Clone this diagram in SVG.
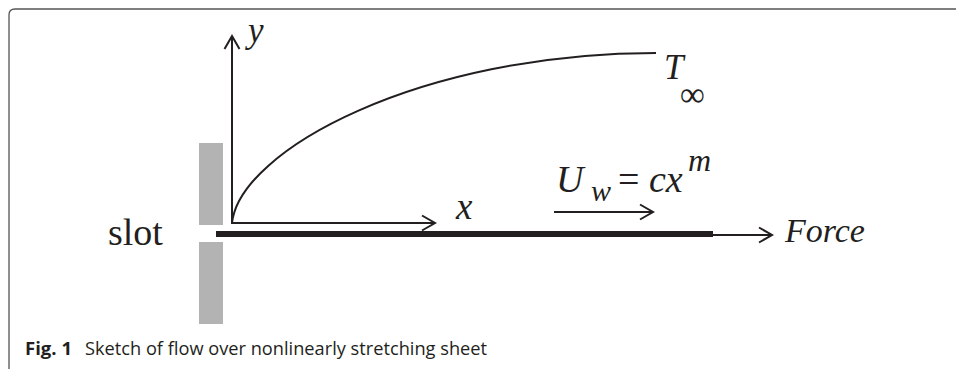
<svg xmlns="http://www.w3.org/2000/svg" width="956" height="369" viewBox="0 0 956 369">
<style>
.ln{fill:none;stroke:#231f20;stroke-width:2}
.m{font-family:"Liberation Serif","Times New Roman",serif;fill:#231f20}
.i{font-style:italic}
.cap{font-family:"Open Sans","Noto Sans",sans-serif;font-size:18px;fill:#231f20}
</style>
<defs>
<marker id="ah" markerUnits="userSpaceOnUse" markerWidth="20" markerHeight="20" viewBox="-16 -10 20 20" refX="0" refY="0" orient="auto">
<path d="M-13,-7.5 L0,0 L-13,7.5" fill="none" stroke="#231f20" stroke-width="2"/>
</marker>
</defs>
<rect width="956" height="369" fill="#fff"/>
<path d="M9,369 V15 Q9,9 15,9 H956" fill="none" stroke="#555" stroke-width="1.3"/>
<g id="slot">
<rect x="199" y="143" width="24" height="82" fill="#b3b3b3"/>
<rect x="199" y="242" width="24" height="82" fill="#b3b3b3"/>
<text class="m" x="108" y="245" font-size="38">slot</text>
</g>
<g id="sheet">
<rect x="216" y="231" width="497" height="6" fill="#231f20"/>
</g>
<g id="connectors">
<line class="ln" x1="232" y1="224" x2="232" y2="36" marker-end="url(#ah)"/>
<line class="ln" x1="231" y1="223" x2="435" y2="223" marker-end="url(#ah)"/>
<line class="ln" x1="713" y1="235" x2="772" y2="235" stroke-width="1.6" marker-end="url(#ah)"/>
<line class="ln" x1="554" y1="212" x2="653" y2="212" marker-end="url(#ah)"/>
<path class="ln" d="M232,223 C240,150 420,53 656,53" stroke-width="2.6"/>
</g>
<g id="labels">
<text class="m i" x="248" y="42" font-size="35">y</text>
<text class="m i" x="456" y="219" font-size="37">x</text>
<text class="m i" x="664" y="79" font-size="35">T</text>
<text class="m" x="680" y="106" font-size="35">∞</text>
<text class="m i" x="556" y="192" font-size="38">U</text>
<text class="m i" x="591" y="201" font-size="30">w</text>
<text class="m" x="618" y="192" font-size="38">=</text>
<text class="m i" x="649" y="192" font-size="38">cx</text>
<text class="m i" x="688" y="171" font-size="32">m</text>
<text class="m i" x="785" y="242" font-size="34">Force</text>
</g>
<g id="caption">
<text class="cap" x="25" y="355" font-weight="bold" textLength="47" lengthAdjust="spacingAndGlyphs">Fig. 1</text>
<text class="cap" x="85" y="355" textLength="402" lengthAdjust="spacingAndGlyphs">Sketch of flow over nonlinearly stretching sheet</text>
</g>
</svg>
